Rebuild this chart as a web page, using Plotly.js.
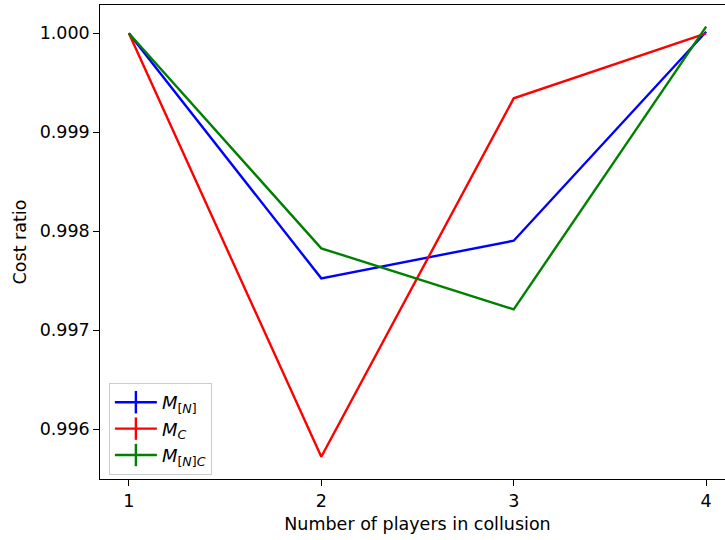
<!DOCTYPE html>
<html>
<head>
<meta charset="utf-8">
<script src="https://cdn.plot.ly/plotly-3.0.1.min.js"></script>
<style>
html,body{margin:0;padding:0;overflow:hidden;background:#fff;}
#chart{width:745px;height:540px;}
</style>
</head>
<body>
<div id="chart"></div>
<script>
const players = [1, 2, 3, 4];
const costN = [1.0, 0.997525, 0.997905, 1.000016];
const costC = [1.0, 0.995723, 0.999343, 1.0];
const costNC = [1.0, 0.997828, 0.997212, 1.000067];
const seriesNames = ['<i>M</i><sub>[<i>N</i>]</sub>', '<i>M</i><sub><i>C</i></sub>', '<i>M</i><sub>[<i>N</i>]<i>C</i></sub>'];
const colors = ['#0000ff', '#ff0000', '#008000'];
const yTicks = [0.996, 0.997, 0.998, 0.999, 1.000];
const xTicks = [1, 2, 3, 4];

const series = [costN, costC, costNC];
const traces = [];
series.forEach((ys, i) => {
  traces.push({
    x: players, y: ys, type: 'scatter', mode: 'lines',
    line: {color: colors[i], width: 2.4},
    showlegend: false, hoverinfo: 'skip'
  });
});
series.forEach((ys, i) => {
  traces.push({
    x: [null], y: [null], type: 'scatter', mode: 'lines+markers',
    name: seriesNames[i],
    line: {color: colors[i], width: 2.4},
    marker: {symbol: 'line-ns', size: 20, line: {color: colors[i], width: 2.4}, color: colors[i]}
  });
});

const font = {family: 'DejaVu Sans', size: 17.5, color: '#000'};
const legendFont = {family: 'DejaVu Sans', size: 18, color: '#000'};
const layout = {
  width: 745, height: 540,
  margin: {l: 100, r: 10, t: 5, b: 61},
  paper_bgcolor: '#fff', plot_bgcolor: '#fff',
  font: font,
  showlegend: true,
  xaxis: {
    range: [0.85, 4.15], tickvals: xTicks, ticktext: xTicks.map(String),
    showgrid: false, zeroline: false,
    showline: true, linecolor: '#000', linewidth: 1.25, mirror: true,
    ticks: 'outside', ticklen: 5.5, tickwidth: 1.25, tickcolor: '#000',
    tickfont: font,
    title: {text: 'Number of players in collusion', font: font, standoff: 8}
  },
  yaxis: {
    range: [0.995498, 1.000286], tickvals: yTicks, ticktext: yTicks.map(v => v.toFixed(3)),
    showgrid: false, zeroline: false,
    showline: true, linecolor: '#000', linewidth: 1.25, mirror: true,
    ticks: 'outside', ticklen: 5.5, tickwidth: 1.25, tickcolor: '#000',
    tickfont: font,
    title: {text: 'Cost ratio', font: font, standoff: 8}
  },
  legend: {
    x: 0.014, y: 0.2025, xanchor: 'left', yanchor: 'top',
    bgcolor: 'rgba(255,255,255,0.8)', bordercolor: '#cccccc', borderwidth: 1,
    font: legendFont, tracegroupgap: 0, itemwidth: 42
  }
};
Plotly.newPlot('chart', traces, layout, {displayModeBar: false, staticPlot: true});
</script>
</body>
</html>
